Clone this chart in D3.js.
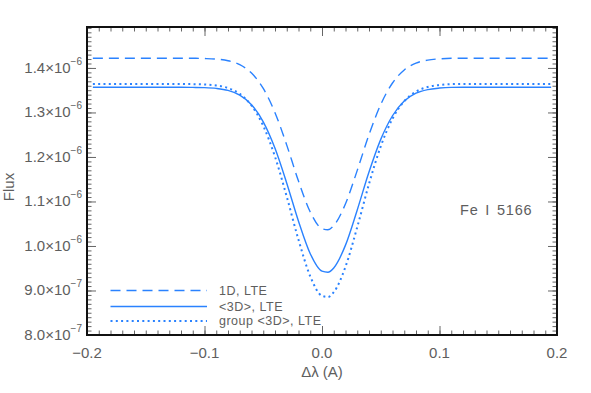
<!DOCTYPE html>
<html>
<head>
<meta charset="utf-8">
<script src="https://cdn.jsdelivr.net/npm/d3@7"></script>
<style>
  body { margin: 0; background: #fff; }
  svg { display: block; }
  text { font-family: "Liberation Sans", Helvetica, Arial, sans-serif; fill: #5e5e5e; }
</style>
</head>
<body>
<svg id="chart" width="591" height="393"></svg>
<script>
// wavelength offsets (A)
const dLambda = [-0.195, -0.15, -0.12, -0.11, -0.10, -0.09, -0.08, -0.07, -0.06, -0.05, -0.04, -0.03, -0.02, -0.01,
  0.00, 0.005, 0.01, 0.02, 0.03, 0.04, 0.05, 0.06, 0.07, 0.08, 0.09, 0.10, 0.11, 0.12, 0.15, 0.195];

// flux in units of 1e-6
const flux1D = [1.4218, 1.4218, 1.4218, 1.4217, 1.4212, 1.4199, 1.4162, 1.4073, 1.3884, 1.3539, 1.2995, 1.2266, 1.1458, 1.0764,
  1.0389, 1.0365, 1.0458, 1.0948, 1.1699, 1.2500, 1.3180, 1.3662, 1.3955, 1.4108, 1.4177, 1.4204, 1.4217, 1.4218, 1.4218, 1.4218];
const flux3D = [1.3566, 1.3566, 1.3566, 1.3563, 1.3558, 1.3541, 1.3496, 1.3391, 1.3175, 1.2790, 1.2195, 1.1411, 1.0556, 0.9827,
  0.9435, 0.9411, 0.9507, 1.0019, 1.0810, 1.1661, 1.2395, 1.2926, 1.3255, 1.3432, 1.3514, 1.3548, 1.3563, 1.3566, 1.3566, 1.3566];
const fluxGroup = [1.3640, 1.3640, 1.3640, 1.3636, 1.3629, 1.3607, 1.3549, 1.3418, 1.3156, 1.2699, 1.2006, 1.1108, 1.0139, 0.9318,
  0.8880, 0.8853, 0.8961, 0.9534, 1.0425, 1.1393, 1.2239, 1.2860, 1.3253, 1.3468, 1.3572, 1.3616, 1.3636, 1.3640, 1.3640, 1.3640];

const xTicks = [-0.2, -0.1, 0.0, 0.1, 0.2];
const xTickLabels = ["\u22120.2", "\u22120.1", "0.0", "0.1", "0.2"];
const yTicks = [0.8, 0.9, 1.0, 1.1, 1.2, 1.3, 1.4];
const yMantissa = ["8.0", "9.0", "1.0", "1.1", "1.2", "1.3", "1.4"];
const yExponent = ["\u22127", "\u22127", "\u22126", "\u22126", "\u22126", "\u22126", "\u22126"];

const seriesNames = ["1D, LTE", "<3D>, LTE", "group <3D>, LTE"];
const seriesDash = ["10,6", null, "2,3.3"];
const lineColor = "#2a82ff";

const svg = d3.select("#chart");
const margin = { top: 27, right: 34, bottom: 58, left: 87 };
const width = 591 - margin.left - margin.right;
const height = 393 - margin.top - margin.bottom;

const x = d3.scaleLinear().domain([-0.2, 0.2]).range([0, width]);
const y = d3.scaleLinear().domain([0.8, 1.492]).range([height, 0]);

const g = svg.append("g").attr("transform", `translate(${margin.left},${margin.top})`);

// ticks on all four sides, pointing inwards
const xMinor = d3.range(-0.2, 0.2001, 0.01);
const yMinor = d3.range(0.8, 1.4921, 0.01);

function tickAxis(axis, t) {
  const a = g.append("g").attr("transform", t).call(axis);
  a.select(".domain").remove();
  a.selectAll("line").attr("stroke", "#666").attr("stroke-width", 1);
  return a;
}
tickAxis(d3.axisBottom(x).tickValues(xMinor).tickSize(-4.5).tickFormat(""), `translate(0,${height})`);
tickAxis(d3.axisBottom(x).tickValues(xTicks).tickSize(-9).tickFormat(""), `translate(0,${height})`);
tickAxis(d3.axisTop(x).tickValues(xMinor).tickSize(-4.5).tickFormat(""), "translate(0,0)");
tickAxis(d3.axisTop(x).tickValues(xTicks).tickSize(-9).tickFormat(""), "translate(0,0)");
tickAxis(d3.axisLeft(y).tickValues(yMinor).tickSize(-4.5).tickFormat(""), "translate(0,0)");
tickAxis(d3.axisLeft(y).tickValues(yTicks).tickSize(-9).tickFormat(""), "translate(0,0)");
tickAxis(d3.axisRight(y).tickValues(yMinor).tickSize(-4.5).tickFormat(""), `translate(${width},0)`);
tickAxis(d3.axisRight(y).tickValues(yTicks).tickSize(-9).tickFormat(""), `translate(${width},0)`);

// frame
g.append("rect")
  .attr("width", width).attr("height", height)
  .attr("fill", "none").attr("stroke", "#111").attr("stroke-width", 2);

// x tick labels
g.selectAll(".xlab").data(xTicks).join("text")
  .attr("x", d => x(d)).attr("y", height + 23)
  .attr("text-anchor", "middle").attr("font-size", 15)
  .text((d, i) => xTickLabels[i]);

// y tick labels  m.m×10^e
const yl = g.selectAll(".ylab").data(yTicks).join("text")
  .attr("x", -5).attr("y", d => y(d) + 5)
  .attr("text-anchor", "end").attr("font-size", 15);
yl.append("tspan").text((d, i) => yMantissa[i] + "\u00d710");
yl.append("tspan").attr("dy", -8).attr("font-size", 10).text((d, i) => yExponent[i]);

// axis titles
g.append("text")
  .attr("x", width / 2).attr("y", height + 42)
  .attr("text-anchor", "middle").attr("font-size", 15)
  .text("\u0394\u03bb (A)");
svg.append("text")
  .attr("transform", "translate(14,187) rotate(-90)")
  .attr("text-anchor", "middle").attr("font-size", 15)
  .text("Flux");

// lines
const series = [flux1D, flux3D, fluxGroup];
const line = d3.line()
  .x(d => x(d[0]))
  .y(d => y(d[1]))
  .curve(d3.curveMonotoneX);

series.forEach((vals, i) => {
  g.append("path")
    .datum(dLambda.map((d, j) => [d, vals[j]]))
    .attr("fill", "none")
    .attr("stroke", lineColor)
    .attr("stroke-width", i === 2 ? 2 : 1.4)
    .attr("stroke-dasharray", seriesDash[i])
    .attr("d", line);
});

// legend
const legendY = [290.5, 306.5, 321];
seriesNames.forEach((name, i) => {
  const ly = legendY[i] - margin.top;
  g.append("line")
    .attr("x1", 110.5 - margin.left).attr("x2", 207 - margin.left)
    .attr("y1", ly).attr("y2", ly)
    .attr("stroke", lineColor)
    .attr("stroke-width", i === 2 ? 2 : 1.4)
    .attr("stroke-dasharray", seriesDash[i]);
  g.append("text")
    .attr("x", 219 - margin.left).attr("y", ly + 4)
    .attr("font-size", 12.5).attr("letter-spacing", 0.5)
    .text(name);
});

// line label
g.append("text")
  .attr("x", 460 - margin.left).attr("y", 215 - margin.top)
  .attr("font-size", 14.5).attr("letter-spacing", 0.8).attr("word-spacing", 2)
  .text("Fe I 5166");
</script>
</body>
</html>
